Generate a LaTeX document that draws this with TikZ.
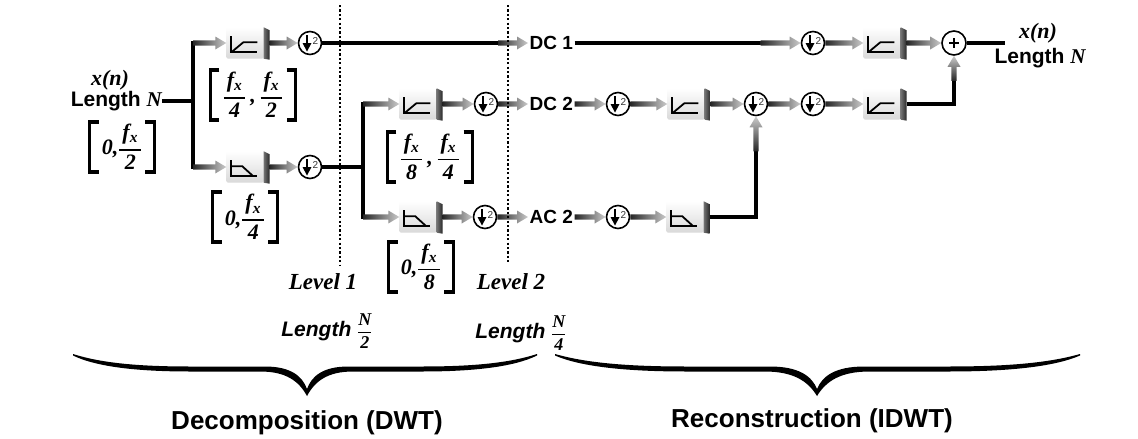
\documentclass[tikz,border=0pt]{standalone}
\usepackage{amsmath}
\usepackage{fontspec}
\setmainfont{Liberation Serif}
\setsansfont{Liberation Sans}
\usetikzlibrary{calc}

\newcommand\mrbi[1]{\text{\rmfamily\bfseries\itshape #1}}
\newcommand\ffr[2]{\genfrac{}{}{1.5pt}{0}{\mrbi{\hspace{3pt}#1\hspace{3pt}}}{\mrbi{#2}}}
\newcommand\fx{f\textsubscript{x}}
\newcommand\lenfrac[2]{{\fontsize{18}{18}\selectfont$\genfrac{}{}{1pt}{0}{\mrbi{#1}}{\mrbi{#2}}$}}

\newcommand\garrow[2]{%
  \shade[left color=black!85, right color=gray!40]
    let \p1=(#1), \p2=(#2) in
    (\x1,\y1+2.6pt) -- (\x2-11pt,\y1+2.6pt) -- (\x2-11pt,\y1+6.5pt) -- (\x2,\y1)
    -- (\x2-11pt,\y1-6.5pt) -- (\x2-11pt,\y1-2.6pt) -- (\x1,\y1-2.6pt) -- cycle;}
\newcommand\garrowup[2]{%
  \shade[bottom color=black!85, top color=gray!40]
    let \p1=(#1), \p2=(#2) in
    (\x1-2.6pt,\y1) -- (\x1-2.6pt,\y2-11pt) -- (\x1-6.5pt,\y2-11pt) -- (\x1,\y2)
    -- (\x1+6.5pt,\y2-11pt) -- (\x1+2.6pt,\y2-11pt) -- (\x1+2.6pt,\y1) -- cycle;}
\newcommand\hpsym{%
  \draw[line width=1.8pt, line join=miter] (5,9) -- (5,25) -- (31,25);
  \draw[line width=1.8pt] (5,25) -- (17,15) -- (31,15);}
\newcommand\lpsym{%
  \draw[line width=1.8pt, line join=miter] (5,9) -- (5,25) -- (31,25);
  \draw[line width=1.8pt] (5,15) -- (16,15) -- (27,25);}
\newcommand\filt[4]{%
  \node[filtnode] (#1) at (#2,#3) {};
  \shade[top color=white, bottom color=gray!30, rounded corners=1.5pt]
    (#1.north west) rectangle ($(#1.south east)+(-6,0)$);
  \shade[left color=black!55, right color=black!85]
    ($(#1.north east)+(-6,0)$) -- ($(#1.north east)+(0,3)$) -- ($(#1.south east)+(0,1)$)
    -- ($(#1.south east)+(-6,0)$) -- cycle;
  \begin{scope}[shift={(#1.north west)}]#4\end{scope}}
\newcommand\brackets[1]{%
  \draw[brline] ($(#1.north west)+(9,0)$) -- (#1.north west) -- (#1.south west) -- ($(#1.south west)+(9,0)$);
  \draw[brline] ($(#1.north east)+(-9,0)$) -- (#1.north east) -- (#1.south east) -- ($(#1.south east)+(-9,0)$);}
\newcommand\halfbrace{%
  \fill (0,0) .. controls (0.12,9) and (0.28,12.5) .. (0.5,12.5) -- (0.82,12.5)
    .. controls (0.93,12.5) and (0.98,22) .. (1,35) -- (1,42)
    .. controls (0.965,27) and (0.91,17.5) .. (0.8,17.5) -- (0.5,17.5)
    .. controls (0.28,17.5) and (0.1,13) .. (0,1.5) -- cycle;}

\begin{document}
\begin{tikzpicture}[x=1pt,y=-1pt,
  bline/.style={line width=4pt, line join=miter},
  filtnode/.style={minimum width=43pt, minimum height=31pt, inner sep=0pt},
  dsamp/.style={circle, draw, line width=1.6pt, minimum size=23pt, inner sep=0pt, fill=white,
    path picture={\coordinate (ppc) at (path picture bounding box.center);
      \draw[black, line width=2.2pt] ($(ppc)+(-3,-8)$) -- ($(ppc)+(-3,1)$);
      \fill[black] ($(ppc)+(-7.5,0)$) -- ($(ppc)+(1.5,0)$) -- ($(ppc)+(-3,8.5)$) -- cycle;
      \node[black!80, font=\sffamily\fontsize{10}{10}\selectfont, inner sep=0pt] at ($(ppc)+(5.5,-1.5)$) {2};}},
  plusnode/.style={circle, draw, line width=1.6pt, minimum size=24pt, inner sep=0pt, fill=white,
    path picture={\coordinate (ppc) at (path picture bounding box.center);
      \draw[black, line width=2.4pt] ($(ppc)+(-5,0)$) -- ($(ppc)+(5,0)$);
      \draw[black, line width=2.4pt] ($(ppc)+(0,-5)$) -- ($(ppc)+(0,5)$);}},
  lab/.style={font=\sffamily\bfseries\fontsize{19}{20}\selectfont, inner sep=1.5pt},
  lenlab/.style={font=\sffamily\bfseries\fontsize{21}{22}\selectfont, inner sep=0pt},
  serlab/.style={font=\rmfamily\bfseries\itshape\fontsize{22}{24}\selectfont, inner sep=0pt},
  levlab/.style={font=\rmfamily\bfseries\itshape\fontsize{23}{24}\selectfont, inner sep=0pt},
  titlelab/.style={font=\sffamily\bfseries\fontsize{26}{28}\selectfont, inner sep=0pt},
  brk/.style={font=\rmfamily\bfseries\itshape\fontsize{22}{24}\selectfont, inner xsep=12pt, inner ysep=0pt, minimum height=50pt},
  dotline/.style={line width=2.2pt, dash pattern=on 2.2pt off 2.2pt},
  brline/.style={line width=3.5pt, line join=miter}
]
\fill[white] (0,0) rectangle (1138,439);
\useasboundingbox (0,0) rectangle (1138,439);

% ---------- input ----------
\node[serlab] (xin) at (110,80) {x(n)};
\node[lenlab, anchor=east] (lenin) at (162,101) {Length {\rmfamily\itshape N}};
\node[brk] (b0) at (122,147) {0,$\ffr{\fx}{2}$};
\brackets{b0}

% ---------- bracket labels ----------
\node[brk] (b1) at (253,95) {$\ffr{\fx}{4}\mrbi{\,,\,}\ffr{\fx}{2}$};
\brackets{b1}
\node[brk] (b2) at (245,217) {0,$\ffr{\fx}{4}$};
\brackets{b2}
\node[brk] (b3) at (430,157) {$\ffr{\fx}{8}\mrbi{\,,\,}\ffr{\fx}{4}$};
\brackets{b3}
\node[brk] (b4) at (421,267) {0,$\ffr{\fx}{8}$};
\brackets{b4}

% ---------- filters ----------
\filt{hp1}{248}{43}{\hpsym}
\filt{lp1}{248}{167}{\lpsym}
\filt{hp2}{421}{104}{\hpsym}
\filt{lp2}{421}{217}{\lpsym}
\filt{hp3}{689}{104}{\hpsym}
\filt{lp3}{688}{217}{\lpsym}
\filt{hp4}{885}{104}{\hpsym}
\filt{hp5}{885}{43}{\hpsym}

% ---------- down-samplers and adder ----------
\node[dsamp] (d1a) at (310,43) {};
\node[dsamp] (d1b) at (310,167) {};
\node[dsamp] (d2b) at (486,104) {};
\node[dsamp] (d2c) at (485,217) {};
\node[dsamp] (r1) at (618,104) {};
\node[dsamp] (r2) at (618,217) {};
\node[dsamp] (r3) at (756,104) {};
\node[dsamp] (r4) at (813,104) {};
\node[dsamp] (r5) at (813,43) {};
\node[plusnode] (plus) at (954,43) {};

% ---------- coefficient labels ----------
\node[lab, anchor=west] (dc1) at (528,43) {DC 1};
\node[lab, anchor=west] (dc2) at (528,104) {DC 2};
\node[lab, anchor=west] (ac2) at (528,217) {AC 2};

% ---------- output ----------
\node[serlab] (xout) at (1038,33) {x(n)};
\node[lenlab] (lenout) at (1040,58) {Length {\rmfamily\itshape N}};

% ---------- coordinates ----------
\coordinate (j1) at (193,101);
\coordinate (j1a) at (193,43);
\coordinate (j1b) at (193,167);
\coordinate (j2) at (363,167);
\coordinate (j2a) at (363,104);
\coordinate (j2b) at (363,217);
\coordinate (a1) at ($(dc1.west)+(-30,0)$);
\coordinate (a2) at ($(r5.west)+(-40,0)$);
\coordinate (c12) at ($(r3.south)+(0,35)$);
\coordinate (c15) at ($(plus.south)+(0,25)$);
\coordinate (oend) at (1005,43);

% ---------- connectors ----------
\draw[bline] (lenin.east) -- (j1);
\draw[bline, line cap=rect] (j1a) -- (j1b);
\garrow{j1a}{hp1.west}
\garrow{j1b}{lp1.west}
\garrow{hp1.east}{d1a.west}
\garrow{lp1.east}{d1b.west}
\draw[bline] (d1a.east) -- (a1);
\garrow{a1}{dc1.west}
\draw[bline] (d1b.east) -- (j2);
\draw[bline, line cap=rect] (j2a) -- (j2b);
\garrow{j2a}{hp2.west}
\garrow{j2b}{lp2.west}
\garrow{hp2.east}{d2b.west}
\garrow{lp2.east}{d2c.west}
\garrow{d2b.east}{dc2.west}
\garrow{d2c.east}{ac2.west}
\garrow{dc2.east}{r1.west}
\garrow{ac2.east}{r2.west}
\garrow{r1.east}{hp3.west}
\garrow{r2.east}{lp3.west}
\garrow{hp3.east}{r3.west}
\draw[bline] (lp3.east) -| (c12);
\garrowup{c12}{r3.south}
\garrow{r3.east}{r4.west}
\garrow{r4.east}{hp4.west}
\draw[bline] (hp4.east) -| (c15);
\garrowup{c15}{plus.south}
\draw[bline] (dc1.east) -- (a2);
\garrow{a2}{r5.west}
\garrow{r5.east}{hp5.west}
\garrow{hp5.east}{plus.west}
\draw[bline] (plus.east) -- (oend);

% ---------- level separators ----------
\coordinate (lv1t) at (340,5);
\coordinate (lv1b) at (340,265);
\coordinate (lv2t) at (508,5);
\coordinate (lv2b) at (508,263);
\draw[dotline] (lv1t) -- (lv1b);
\draw[dotline] (lv2t) -- (lv2b);
\node[levlab] (lev1) at (323,282) {Level 1};
\node[levlab] (lev2) at (511,282) {Level 2};

% ---------- lengths ----------
\node[lenlab] (len2) at (327,331) {\itshape Length \lenfrac{N}{2}};
\node[lenlab] (len4) at (521,333) {\itshape Length \lenfrac{N}{4}};

% ---------- braces ----------
\begin{scope}[shift={(73,354)}, x=234pt]\halfbrace\end{scope}
\begin{scope}[shift={(537,354)}, x=-230pt]\halfbrace\end{scope}
\begin{scope}[shift={(555,354)}, x=262pt]\halfbrace\end{scope}
\begin{scope}[shift={(1080,354)}, x=-263pt]\halfbrace\end{scope}

\node[titlelab] (dec) at (307,423) {Decomposition (DWT)};
\node[titlelab] (rec) at (812,421) {Reconstruction (IDWT)};
\end{tikzpicture}
\end{document}
